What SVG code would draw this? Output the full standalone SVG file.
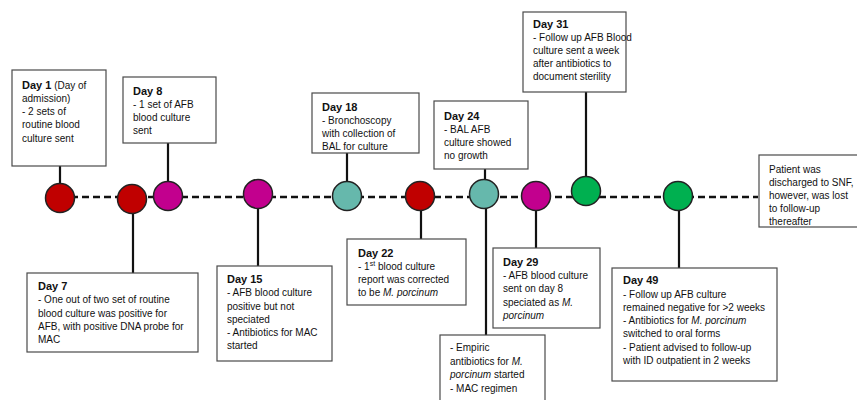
<svg xmlns="http://www.w3.org/2000/svg" width="857" height="400" viewBox="0 0 857 400">
<style>
.box{fill:#fff;stroke:#4a4a4a;stroke-width:1.2}
.t{font-family:"Liberation Sans",Arial,sans-serif;font-size:10px;fill:#111}
.b{font-weight:bold;font-size:11px}
.i{font-style:italic}
.c{stroke:#111;stroke-width:2.2;fill:none}
.d{stroke:#111;stroke-width:2.5;stroke-dasharray:7 4;fill:none}
.n{stroke:#222;stroke-width:1.5}
.red{fill:#C00000}.mag{fill:#C2008E}.teal{fill:#66B8AC}.grn{fill:#00B050}
</style>
<rect width="857" height="400" fill="#fff"/>
<g id="connectors">
<path class="d" d="M60 197H758"/>
<path class="c" d="M60 166V184M168 143V182M347 153V182M485 169V180M586 92V177M133 212V273M258 208V266M421 210V239M486 208V335M536 210V248M679 210V268"/>
</g>
<g id="day1">
<rect class="box" x="12" y="70" width="94" height="96"/>
<text class="t" x="22" y="89"><tspan class="b">Day 1</tspan> (Day of</text>
<text class="t" x="22" y="102">admission)</text>
<text class="t" x="22" y="115">- 2 sets of</text>
<text class="t" x="22" y="128">routine blood</text>
<text class="t" x="22" y="142">culture sent</text>
<circle class="n red" cx="60" cy="198" r="14.5"/>
</g>
<g id="day7">
<rect class="box" x="27" y="273" width="171" height="79"/>
<text class="t b" x="38" y="290">Day 7</text>
<text class="t" x="38" y="303">- One out of two set of routine</text>
<text class="t" x="38" y="317">blood culture was positive for</text>
<text class="t" x="38" y="330">AFB, with positive DNA probe for</text>
<text class="t" x="38" y="343">MAC</text>
<circle class="n red" cx="132" cy="199" r="14.5"/>
</g>
<g id="day8">
<rect class="box" x="123" y="77" width="93" height="66"/>
<text class="t b" x="133" y="95">Day 8</text>
<text class="t" x="133" y="108">- 1 set of AFB</text>
<text class="t" x="133" y="121">blood culture</text>
<text class="t" x="133" y="134">sent</text>
<circle class="n mag" cx="168" cy="196" r="14.5"/>
</g>
<g id="day15">
<rect class="box" x="217" y="266" width="115" height="95"/>
<text class="t b" x="227" y="283">Day 15</text>
<text class="t" x="227" y="296">- AFB blood culture</text>
<text class="t" x="227" y="310">positive but not</text>
<text class="t" x="227" y="323">speciated</text>
<text class="t" x="227" y="336">- Antibiotics for MAC</text>
<text class="t" x="227" y="349">started</text>
<circle class="n mag" cx="258" cy="194" r="14.5"/>
</g>
<g id="day18">
<rect class="box" x="312" y="93" width="107" height="60"/>
<text class="t b" x="322" y="111">Day 18</text>
<text class="t" x="322" y="124">- Bronchoscopy</text>
<text class="t" x="322" y="137">with collection of</text>
<text class="t" x="322" y="150">BAL for culture</text>
<circle class="n teal" cx="347" cy="196" r="14.5"/>
</g>
<g id="day22">
<rect class="box" x="347" y="239" width="119" height="66"/>
<text class="t b" x="358" y="257">Day 22</text>
<text class="t" x="358" y="270">- 1<tspan font-size="7" dy="-4">st</tspan><tspan dy="4"> blood culture</tspan></text>
<text class="t" x="358" y="283">report was corrected</text>
<text class="t" x="358" y="296">to be <tspan class="i">M. porcinum</tspan></text>
<circle class="n red" cx="420" cy="196" r="14.5"/>
</g>
<g id="day24">
<rect class="box" x="434" y="101" width="94" height="68"/>
<text class="t b" x="444" y="120">Day 24</text>
<text class="t" x="444" y="133">- BAL AFB</text>
<text class="t" x="444" y="146">culture showed</text>
<text class="t" x="444" y="159">no growth</text>
<circle class="n teal" cx="484" cy="194" r="14.5"/>
</g>
<g id="empiric">
<rect class="box" x="440" y="335" width="105" height="80"/>
<text class="t" x="450" y="351">- Empiric</text>
<text class="t" x="450" y="365">antibiotics for <tspan class="i">M.</tspan></text>
<text class="t" x="450" y="378"><tspan class="i">porcinum</tspan> started</text>
<text class="t" x="450" y="392">- MAC regimen</text>
</g>
<g id="day29">
<rect class="box" x="493" y="248" width="107" height="80"/>
<text class="t b" x="503" y="266">Day 29</text>
<text class="t" x="503" y="279">- AFB blood culture</text>
<text class="t" x="503" y="292">sent on day 8</text>
<text class="t" x="503" y="306">speciated as <tspan class="i">M.</tspan></text>
<text class="t i" x="503" y="319">porcinum</text>
<circle class="n mag" cx="536" cy="196" r="14.5"/>
</g>
<g id="day31">
<rect class="box" x="523" y="12" width="103" height="80"/>
<text class="t b" x="533" y="28">Day 31</text>
<text class="t" x="533" y="41">- Follow up AFB Blood</text>
<text class="t" x="533" y="54">culture sent a week</text>
<text class="t" x="533" y="67">after antibiotics to</text>
<text class="t" x="533" y="80">document sterility</text>
<circle class="n grn" cx="586" cy="191" r="14.5"/>
</g>
<g id="day49">
<rect class="box" x="612" y="268" width="165" height="113"/>
<text class="t b" x="623" y="284">Day 49</text>
<text class="t" x="623" y="298">- Follow up AFB culture</text>
<text class="t" x="623" y="311">remained negative for &gt;2 weeks</text>
<text class="t" x="623" y="324">- Antibiotics for <tspan class="i">M. porcinum</tspan></text>
<text class="t" x="623" y="337">switched to oral forms</text>
<text class="t" x="623" y="351">- Patient advised to follow-up</text>
<text class="t" x="623" y="364">with ID outpatient in 2 weeks</text>
<circle class="n grn" cx="678" cy="196" r="14.5"/>
</g>
<g id="outcome">
<rect class="box" x="759" y="155" width="105" height="72"/>
<text class="t" x="769" y="173">Patient was</text>
<text class="t" x="769" y="186">discharged to SNF,</text>
<text class="t" x="769" y="199">however, was lost</text>
<text class="t" x="769" y="212">to follow-up</text>
<text class="t" x="769" y="225">thereafter</text>
</g>
</svg>
